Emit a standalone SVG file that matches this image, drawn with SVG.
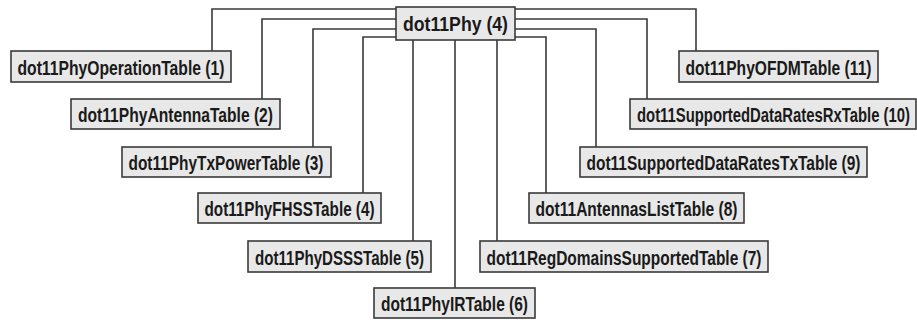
<svg xmlns="http://www.w3.org/2000/svg" width="917" height="320" viewBox="0 0 917 320">
<style>
  .box { fill: #e8e8e8; stroke: #3a3a3a; stroke-width: 1.6; }
  .lbl { font-family: "Liberation Sans Narrow", "Liberation Sans", Arial, sans-serif; font-weight: bold; font-size: 20px; fill: #1a1a1a; text-anchor: middle; }
  .conn path { fill: none; stroke: #3a3a3a; stroke-width: 1.6; }
</style>
<rect width="917" height="320" fill="#ffffff"/>
<g id="connectors" class="conn">
  <path d="M396,9 H212 V51"/>
  <path d="M396,19 H262 V99"/>
  <path d="M396,29 H313 V147"/>
  <path d="M396,37 H363 V193"/>
  <path d="M413,40 V241"/>
  <path d="M455,40 V288"/>
  <path d="M497,40 V241"/>
  <path d="M515,37 H546 V193"/>
  <path d="M515,29 H596 V147"/>
  <path d="M515,19 H647 V99"/>
  <path d="M515,9 H696 V51"/>
</g>
<g id="node-dot11Phy">
  <rect class="box" x="396" y="7" width="119" height="33"/>
  <text class="lbl" x="455.5" y="31" textLength="105" lengthAdjust="spacingAndGlyphs">dot11Phy (4)</text>
</g>
<g id="node-1">
  <rect class="box" x="11" y="51" width="220" height="31"/>
  <text class="lbl" x="121" y="74.5" textLength="207" lengthAdjust="spacingAndGlyphs">dot11PhyOperationTable (1)</text>
</g>
<g id="node-2">
  <rect class="box" x="71" y="99" width="209" height="30"/>
  <text class="lbl" x="175.5" y="122" textLength="195" lengthAdjust="spacingAndGlyphs">dot11PhyAntennaTable (2)</text>
</g>
<g id="node-3">
  <rect class="box" x="122" y="147" width="209" height="30"/>
  <text class="lbl" x="226" y="170" textLength="195" lengthAdjust="spacingAndGlyphs">dot11PhyTxPowerTable (3)</text>
</g>
<g id="node-4">
  <rect class="box" x="198" y="193" width="183" height="30"/>
  <text class="lbl" x="289.5" y="216" textLength="170" lengthAdjust="spacingAndGlyphs">dot11PhyFHSSTable (4)</text>
</g>
<g id="node-5">
  <rect class="box" x="248" y="241" width="183" height="31"/>
  <text class="lbl" x="339.5" y="264.5" textLength="169" lengthAdjust="spacingAndGlyphs">dot11PhyDSSSTable (5)</text>
</g>
<g id="node-6">
  <rect class="box" x="374" y="288" width="161" height="30"/>
  <text class="lbl" x="454.5" y="311" textLength="147" lengthAdjust="spacingAndGlyphs">dot11PhyIRTable (6)</text>
</g>
<g id="node-7">
  <rect class="box" x="480" y="241" width="288" height="31"/>
  <text class="lbl" x="624" y="264.5" textLength="275" lengthAdjust="spacingAndGlyphs">dot11RegDomainsSupportedTable (7)</text>
</g>
<g id="node-8">
  <rect class="box" x="529" y="193" width="215" height="30"/>
  <text class="lbl" x="636.5" y="216" textLength="202" lengthAdjust="spacingAndGlyphs">dot11AntennasListTable (8)</text>
</g>
<g id="node-9">
  <rect class="box" x="580" y="147" width="287" height="30"/>
  <text class="lbl" x="723.5" y="170" textLength="274" lengthAdjust="spacingAndGlyphs">dot11SupportedDataRatesTxTable (9)</text>
</g>
<g id="node-10">
  <rect class="box" x="630" y="99" width="286" height="30"/>
  <text class="lbl" x="773.5" y="122" textLength="273" lengthAdjust="spacingAndGlyphs">dot11SupportedDataRatesRxTable (10)</text>
</g>
<g id="node-11">
  <rect class="box" x="679" y="51" width="199" height="31"/>
  <text class="lbl" x="778.5" y="74.5" textLength="186" lengthAdjust="spacingAndGlyphs">dot11PhyOFDMTable (11)</text>
</g>
</svg>
